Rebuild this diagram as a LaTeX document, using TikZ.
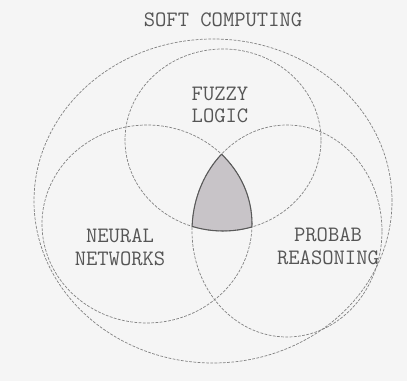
\documentclass[tikz,border=0pt]{standalone}
\definecolor{scbg}{RGB}{245,245,245}
\definecolor{scline}{RGB}{130,130,130}
\definecolor{sctext}{RGB}{85,85,85}
\definecolor{scshade}{RGB}{200,196,200}
\newcommand{\softset}{(4.26,3.60) ellipse (3.58cm and 3.24cm)}
\newcommand{\fuzzyset}{(4.46,4.82) ellipse (1.96cm and 1.82cm)}
\newcommand{\neuralset}{(2.94,3.14) ellipse (2.10cm and 1.98cm)}
\newcommand{\probabset}{(5.74,3.00) ellipse (1.90cm and 2.12cm)}
\tikzset{
  setline/.style={scline, thin, dash pattern=on 1.6pt off 0.8pt},
  setlab/.style={font=\ttfamily\fontsize{12.5}{13}\selectfont, text=sctext, align=center},
  core/.style={fill=scshade},
  coreedge/.style={draw=black!65, semithick},
}
\begin{document}
\begin{tikzpicture}
  \fill[scbg] (0,0) rectangle (8.14,7.62);
  \useasboundingbox (0,0) rectangle (8.14,7.62);
  \begin{scope}
    \clip \fuzzyset; \clip \neuralset;
    \fill[core] \probabset;
  \end{scope}
  \draw[setline] \softset;
  \draw[setline] \fuzzyset;
  \draw[setline] \neuralset;
  \draw[setline] \probabset;
  \begin{scope}
    \clip \fuzzyset; \clip \neuralset;
    \draw[coreedge] \probabset;
  \end{scope}
  \begin{scope}
    \clip \fuzzyset; \clip \probabset;
    \draw[coreedge] \neuralset;
  \end{scope}
  \begin{scope}
    \clip \neuralset; \clip \probabset;
    \draw[coreedge] \fuzzyset;
  \end{scope}
  \node[setlab] (soft) at (4.46,7.22) {SOFT COMPUTING};
  \node[setlab] (fuzzy) at (4.40,5.52) {FUZZY\\LOGIC};
  \node[setlab] (neural) at (2.40,2.68) {NEURAL\\NETWORKS};
  \node[setlab] (probab) at (6.56,2.70) {PROBAB\\REASONING};
\end{tikzpicture}
\end{document}
